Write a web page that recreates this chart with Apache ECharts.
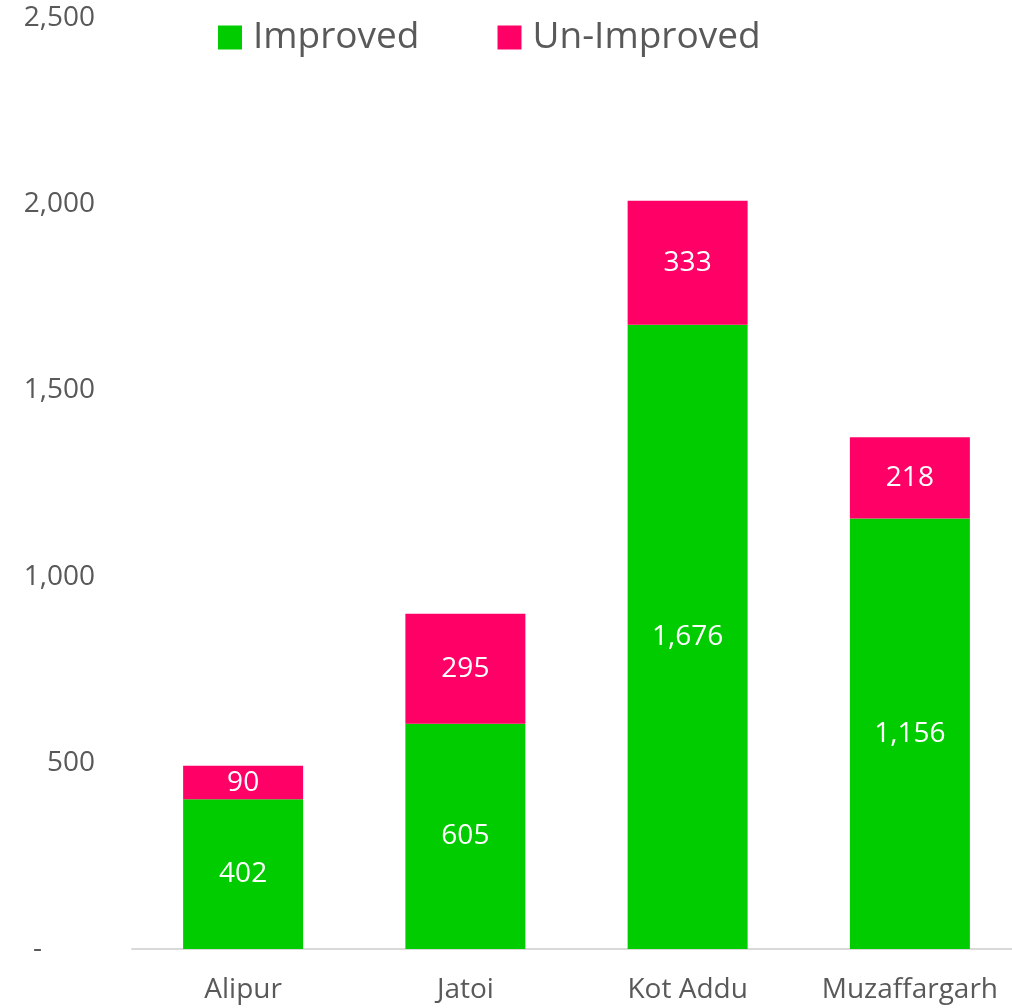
<!DOCTYPE html>
<html><head><meta charset="utf-8">
<script src="https://cdn.jsdelivr.net/npm/echarts@6/dist/echarts.min.js"></script>
<style>html,body{margin:0;padding:0;background:#fff;overflow:hidden}#c{width:1021px;height:1008px}</style>
</head><body><div id="c"></div>
<script>
const categories = ['Alipur', 'Jatoi', 'Kot Addu', 'Muzaffargarh'];
const improved = [402, 605, 1676, 1156];
const unImproved = [90, 295, 333, 218];
const seriesNames = ['Improved', 'Un-Improved'];

const font = '"Open Sans", Calibri, sans-serif';
const fmt = v => v.toLocaleString('en-US');
const chart = echarts.init(document.getElementById('c'));
chart.setOption({
  animation: false,
  textStyle: { fontFamily: font },
  grid: { left: 132, top: 18, right: 0, bottom: 59, containLabel: false },
  legend: {
    left: 213, top: 14, itemWidth: 24, itemHeight: 24, itemGap: 78,
    icon: 'rect',
    textStyle: { fontSize: 37, color: '#595959', fontFamily: font, padding: [0, 0, 0, 6] },
    data: seriesNames
  },
  xAxis: {
    type: 'category', data: categories,
    axisLine: { lineStyle: { color: '#D9D9D9', width: 2 } },
    axisTick: { show: false },
    axisLabel: { interval: 0, fontSize: 28, color: '#595959', margin: 27, fontFamily: font }
  },
  yAxis: {
    type: 'value', min: 0, max: 2500, interval: 500,
    splitLine: { show: false },
    axisLine: { show: false }, axisTick: { show: false },
    axisLabel: {
      fontSize: 28, color: '#595959', margin: 37, fontFamily: font,
      formatter: v => v === 0 ? '{d|-}' : fmt(v),
      rich: { d: { fontSize: 28, color: '#595959', padding: [0, 53, 0, 0], fontFamily: font } }
    }
  },
  series: [
    {
      name: seriesNames[0], type: 'bar', stack: 'a', data: improved, barWidth: 120,
      itemStyle: { color: '#00CC00' },
      label: { show: true, position: 'inside', color: '#fff', fontSize: 28, fontFamily: font, formatter: p => fmt(p.value) }
    },
    {
      name: seriesNames[1], type: 'bar', stack: 'a', data: unImproved, barWidth: 120,
      itemStyle: { color: '#FF0066' },
      label: { show: true, position: 'inside', color: '#fff', fontSize: 28, fontFamily: font, formatter: p => fmt(p.value) }
    }
  ]
});
</script></body></html>
